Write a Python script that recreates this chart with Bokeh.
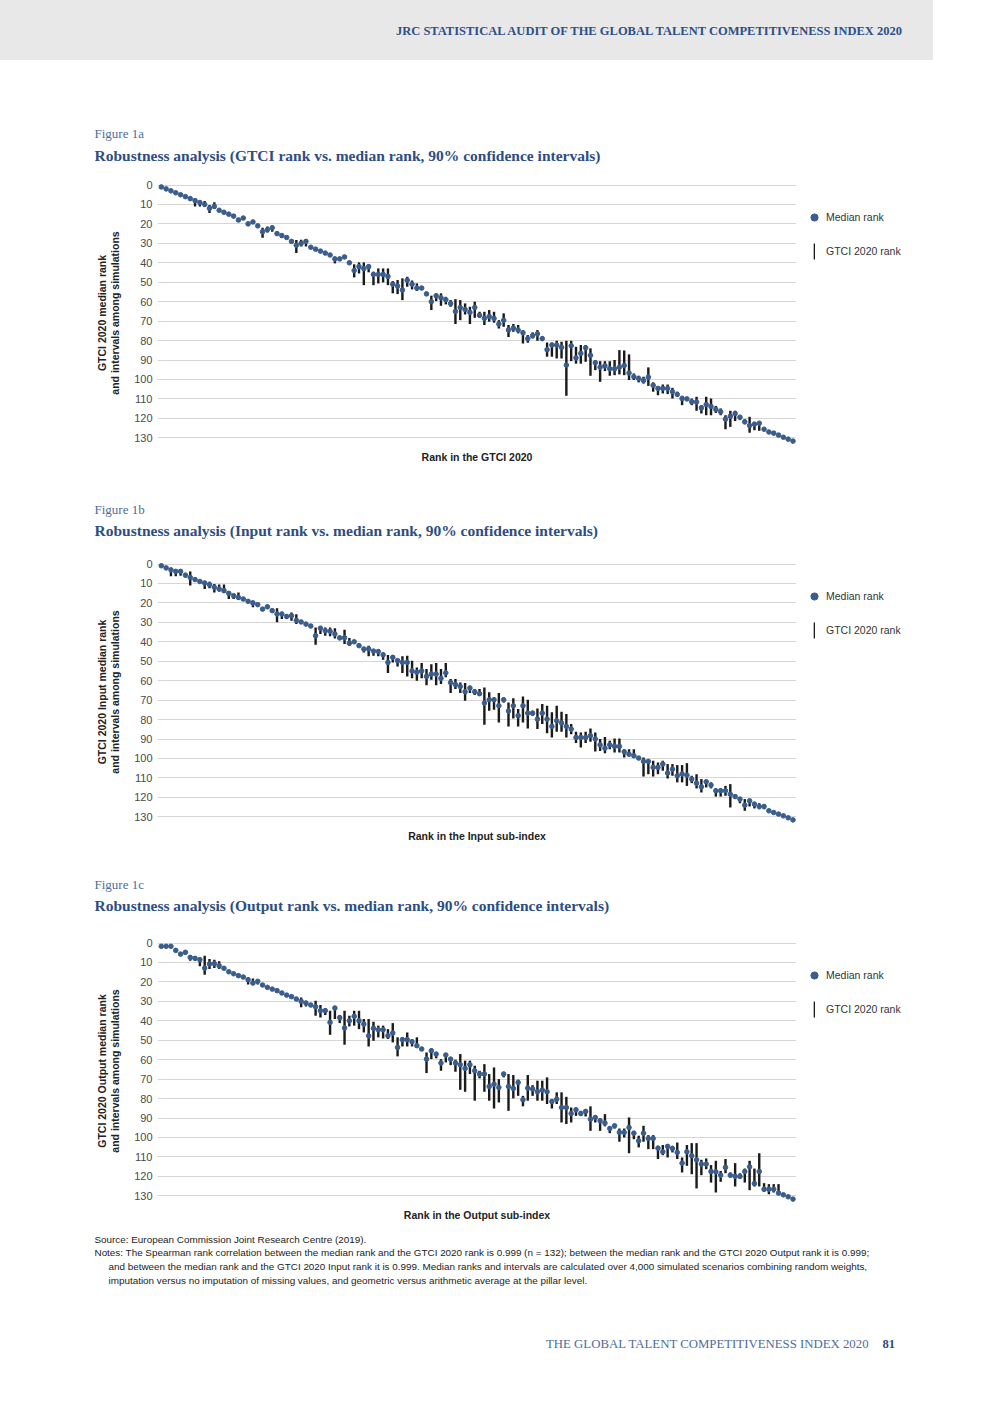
from bokeh.plotting import figure
from bokeh.models import (Range1d, FixedTicker, Label, Legend, LegendItem, Div,
                          ColumnDataSource)
from bokeh.layouts import column, row
from bokeh.embed import file_html
from bokeh.resources import INLINE
import math

# ---------------- data ----------------
ranks = list(range(1, 133))
y_ticks = [0, 10, 20, 30, 40, 50, 60, 70, 80, 90, 100, 110, 120, 130]

# Figure 1a : GTCI rank vs median rank
med_a = [1, 2, 3, 4, 5, 6, 7, 8, 9, 10,
         12, 11, 13, 14, 15, 16, 18, 17, 20, 19,
         21, 24, 23, 22, 25, 26, 27, 29, 31, 30,
         29, 32, 33, 34, 35, 36, 38, 38, 37, 40,
         44, 42, 43, 42, 46, 46, 46, 47, 51, 52,
         54, 49, 51, 53, 53, 56, 60, 57, 58, 59,
         61, 65, 63, 64, 65.5, 63, 67, 68.6, 67.6, 68.6,
         71.5, 69.6, 74.6, 73.6, 74.6, 76, 79, 77.5, 76.5, 79,
         84.7, 82.3, 82.3, 83.5, 92.6, 82.7, 88.9, 86.6, 83.7, 87.6,
         91.4, 93.7, 93, 94.5, 94.5, 93.7, 92.8, 96.7, 98.6, 99.5,
         100.5, 98.8, 103, 104.6, 104.6, 104.6, 106.3, 107.7, 109.8, 110,
         111.5, 111.6, 114.6, 112.9, 113.9, 115.4, 116.6, 120.4, 118.9, 117.5,
         119.4, 121.8, 123.7, 123, 122.5, 125.6, 127, 127.6, 128.6, 129.7,
         130.7, 131.7]
lo_a = [1, 2, 3, 4, 5, 6, 7, 7.7, 8.1, 8.2,
        10.3, 8.9, 13, 14, 15, 16, 16.8, 17, 18.9, 19,
        21, 22, 21.4, 20.9, 25, 24.9, 27, 29, 28.3, 28.1,
        28.1, 32, 33, 34, 35, 36, 36.9, 38, 37, 40,
        40.8, 39.8, 39.8, 40.8, 44.6, 42.9, 42.9, 42.9, 49.4, 48.9,
        48, 47.2, 49.1, 50.6, 53, 55, 56.9, 55.7, 55.7, 57.5,
        59.2, 58.7, 59.2, 60.9, 62.6, 60, 65.2, 65.2, 64.3, 65.2,
        69.5, 66, 72, 71.5, 72, 74.6, 77.2, 75.8, 74.6, 78,
        81, 81, 80.1, 80.6, 80.1, 80.1, 83.2, 82.3, 82.3, 84,
        90, 90.6, 90.6, 90.6, 90, 84.9, 85.1, 87.1, 96.9, 98.1,
        98.6, 93.8, 101.5, 103.8, 102.6, 102.6, 104.3, 106.3, 108.4, 110,
        109.8, 108.9, 113.2, 108.9, 109.8, 113.6, 114.9, 118.4, 116.1, 116.1,
        118.4, 120.4, 119.2, 121.8, 121.8, 125.6, 127, 127.6, 128.6, 129.7,
        130.7, 131.7]
hi_a = [1, 2, 3, 4, 5, 6, 7, 11.1, 11.1, 11.3,
        14.4, 12.3, 13, 14, 15, 16, 18.9, 17, 21.1, 19,
        21, 27.1, 24.4, 24, 25, 27.1, 27, 29, 35, 31.6,
        31.6, 32, 33, 34, 35, 36, 40.3, 38, 37, 40,
        47.5, 45.5, 51.5, 44.9, 51.5, 50.6, 50.1, 51.5, 55.7, 56.1,
        59.2, 52.3, 53.7, 54.5, 53, 57, 64.3, 59.7, 62.1, 61.4,
        62.6, 71.5, 69.5, 66.6, 71.5, 68.3, 68.3, 72, 70.3, 70.8,
        73.8, 72.9, 78.2, 75.5, 76.3, 81.5, 81.1, 78.9, 80.1, 80.1,
        88.3, 88.3, 89.2, 89.2, 108.4, 90.6, 91.9, 91.9, 90.9, 98.1,
        95.2, 101.2, 95.7, 98.1, 97.8, 97.4, 97.8, 100.3, 100.3, 101.5,
        102.1, 103.3, 106.3, 108.1, 107.2, 107.5, 109.8, 108.9, 113.2, 110,
        113.2, 116.1, 117.5, 118.4, 118.4, 117.2, 118.4, 125.6, 124.4, 121.4,
        120.9, 123, 127.4, 126.1, 126.4, 125.6, 127, 127.6, 128.6, 129.7,
        130.7, 131.7]

# Figure 1b : Input rank vs median rank
med_b = [0.9, 2, 3, 3.8, 3.8, 5.7, 6.9, 8, 9, 9.8,
         10.6, 12, 12.9, 13.7, 15.1, 16.3, 17.2, 18, 19.2, 20,
         20.9, 23.2, 22, 24, 25.7, 25.7, 27, 26.6, 29, 29.8,
         30.9, 31.9, 36.9, 33, 34.3, 34.6, 36, 38, 37.9, 40.7,
         40, 42, 43.7, 43.7, 44.8, 45, 46.7, 50.6, 48, 49.7,
         50.6, 50.6, 55, 55.7, 55, 57.8, 56.6, 56.6, 58.8, 56,
         61, 62, 63, 65.7, 63.8, 65.7, 66.7, 71.5, 69.8, 69.8,
         72.9, 69.8, 75.6, 72.9, 78, 72.9, 76.7, 76.7, 79.8, 76.7,
         79.8, 83.5, 80.6, 81.8, 83.5, 84.9, 89.2, 89.2, 89.2, 88.3,
         90, 93, 94.7, 93, 93.8, 93.8, 96.6, 97.8, 98.6, 99.8,
         101.5, 101.5, 104.6, 104.6, 102.9, 107.5, 105.5, 108.9, 108, 108.6,
         110.6, 112.7, 114.6, 112, 113.7, 116.6, 116.6, 116.6, 118.4, 119.6,
         120.9, 124, 121.8, 123.5, 124.7, 124.7, 126.9, 127.8, 128.6, 129.5,
         130.5, 131.6]
lo_b = [0.9, 2, 2.2, 2.9, 2.9, 4.6, 3.8, 8, 9, 8.6,
        9.1, 10.3, 10.6, 10.6, 14.2, 15.4, 14.6, 18, 19.2, 18.9,
        20.9, 23.2, 21.1, 24, 22.8, 24.9, 25.7, 24.9, 25.9, 29.8,
        30.9, 31.9, 32.6, 32.2, 32.6, 32.6, 33.1, 36.9, 33.8, 38.1,
        40, 42, 42.9, 42, 44.1, 44.1, 45.5, 46.8, 46.8, 48.9,
        47.5, 47.2, 49.7, 53.2, 50.9, 54, 51.5, 50.9, 54, 50.9,
        59.2, 59.2, 60.9, 61.2, 62.6, 64.3, 64.3, 63.5, 66, 68.6,
        66.4, 68.6, 71.2, 69.1, 74.6, 68.1, 69.8, 75.5, 74.3, 72,
        72.9, 76.3, 72.9, 76, 77.2, 82.3, 86.3, 86.6, 86.3, 84.6,
        86.6, 90, 88.9, 90.9, 89.7, 89.7, 95.2, 95.2, 95.2, 99.8,
        99.5, 100.7, 101.2, 102.1, 101.2, 102.9, 102.9, 103.4, 103.4, 102.4,
        108.9, 108.1, 110.6, 111, 112.3, 115.4, 115.4, 114.1, 113.2, 119.6,
        120.1, 120.9, 120.9, 122.3, 123, 123.5, 126.9, 127.8, 128.6, 129.5,
        130.5, 131.6]
hi_b = [0.9, 2, 6.3, 6.3, 6, 6.9, 11.1, 8, 9, 12.9,
        12.5, 14.6, 14.1, 14.9, 18, 18, 18.5, 18, 19.2, 22.3,
        20.9, 23.2, 23.2, 24, 30, 28.3, 28.3, 29.2, 30.9, 29.8,
        30.9, 31.9, 41.5, 36, 36.9, 37.2, 38.3, 38.6, 41.2, 42,
        40, 42, 45.5, 47.5, 47.2, 47.5, 49.2, 56.1, 50.6, 52.7,
        56.1, 57.8, 58.7, 60, 58.8, 62.3, 59.5, 62.3, 61.7, 58.3,
        66.4, 64.3, 66.4, 70.3, 66.4, 67.4, 67.8, 82.7, 75.5, 75,
        81.5, 71.2, 83.5, 79.4, 83.5, 81.5, 84.6, 78, 84.9, 82.3,
        87, 89.2, 86.3, 86.3, 89.2, 87.5, 92.1, 94.3, 92.1, 91.4,
        96.4, 96.1, 97.3, 95.2, 96.9, 96.9, 99.5, 99, 99.5, 99.8,
        109.3, 108.1, 109.3, 108.1, 106.3, 110.3, 108.9, 112.3, 112.3, 114.1,
        112.7, 115.4, 117.5, 114.9, 115.4, 119.6, 119.6, 119.2, 125.2, 119.6,
        123, 126.9, 124.7, 125.7, 126.1, 126.1, 126.9, 127.8, 128.6, 129.5,
        130.5, 131.6]

# Figure 1c : Output rank vs median rank
med_c = [1.7, 1.7, 1.7, 3.8, 5.7, 4.8, 7.4, 7.9, 8.6, 12.9,
         10.8, 10.6, 11.7, 13, 14.8, 15.8, 16.8, 17.5, 18.9, 20.6,
         19.7, 21.6, 22.8, 23.7, 24.5, 25.7, 26.8, 27.6, 28.8, 30,
         30.9, 31.9, 32.8, 34.8, 34.8, 40.8, 33.4, 38.4, 43.7, 40,
         37.7, 40, 41.7, 47.7, 43.9, 44.6, 44.6, 47.7, 46.3, 53.7,
         49.7, 49.7, 50.8, 52.8, 54.5, 59.7, 55.4, 57.1, 61.7, 57.6,
         59.7, 61.7, 62.6, 64.5, 62.6, 65.7, 67.4, 67.4, 73.8, 72.6,
         74.3, 67.4, 73.8, 74.8, 71.7, 80.6, 74.6, 75.1, 76.5, 75.6,
         76.5, 81.5, 80.3, 84.6, 84.6, 87.7, 85.8, 87.7, 86.6, 90.6,
         89.7, 91.4, 92.6, 95.4, 94, 97.4, 97.4, 94.9, 97.8, 101.7,
         97.8, 100.5, 100.5, 105.5, 107.4, 104.6, 105.7, 107.7, 113.2, 107.4,
         109.4, 111.5, 113.7, 113.7, 117.5, 117.7, 119.4, 115.4, 119.4, 120,
         120, 117.5, 115.1, 123.7, 117.5, 126.6, 126.6, 126.6, 128.6, 129.5,
         130.5, 131.7]
lo_c = [1.7, 1.7, 1.7, 3.8, 5.7, 4.8, 6.2, 6.9, 7.4, 6.5,
        8.2, 8.6, 9.4, 13, 14.8, 15.8, 16.8, 17.5, 17.7, 18.2,
        19, 21.6, 22.8, 23.7, 24.5, 25.7, 26.8, 27.6, 28.8, 28,
        29.7, 31.9, 29.7, 31.9, 33.6, 34.8, 32.8, 37, 34.8, 37.4,
        34.8, 34.8, 39.1, 39.1, 40.5, 42.5, 42.5, 44.3, 41.2, 48.5,
        48.5, 46, 49.4, 48.5, 54.5, 56.3, 54.2, 56.3, 59.7, 57.1,
        58.8, 60, 57.1, 60.5, 60.5, 63.1, 65.7, 62.3, 67.4, 64,
        70, 66.2, 67.4, 67.9, 70.3, 78.6, 67.9, 73.1, 70.8, 70.8,
        69.1, 80.3, 76.8, 76.8, 79.1, 84.6, 84.6, 86.3, 85.4, 84,
        88.9, 90.2, 88, 94.3, 93.1, 95.4, 95.4, 89.7, 96.6, 99.1,
        94, 98.8, 98.8, 104.3, 103.9, 103.4, 104.3, 102.6, 110.3, 103.9,
        102.9, 102.9, 111.5, 110.8, 114.2, 112, 117.2, 111.1, 118, 113.2,
        118.4, 116, 112, 116, 108.1, 123.5, 124, 124, 124, 129.5,
        130.5, 131.7]
hi_c = [1.7, 1.7, 1.7, 3.8, 5.7, 4.8, 9.1, 9.1, 12, 16.3,
        13.4, 12.9, 13.4, 13, 14.8, 15.8, 16.8, 17.5, 21.4, 21.6,
        21.4, 21.6, 22.8, 23.7, 24.5, 25.7, 26.8, 27.6, 28.8, 33.1,
        32.6, 31.9, 37.4, 38.3, 37, 47.2, 39.1, 41.2, 52.3, 42.9,
        42.5, 44.3, 46, 53.2, 50.3, 48.5, 49.1, 49.4, 51.1, 58.3,
        53.2, 53.2, 53.2, 53.7, 54.5, 66.9, 59.7, 59.3, 65.7, 61.4,
        62.8, 66.2, 75.5, 76.5, 67.4, 81.1, 69.6, 76.5, 81.1, 85.1,
        82, 69.1, 86.3, 79.9, 78.6, 84, 81.1, 78.6, 81.1, 81.1,
        82.8, 85.1, 82.8, 92.3, 93.1, 92.3, 88.9, 88.9, 89.2, 96.6,
        92.3, 96.6, 94.3, 97.8, 95.4, 102.2, 100, 108.1, 100.9, 105.1,
        102.2, 106, 106, 111.1, 109.1, 110.3, 107.7, 111.1, 118, 114.6,
        118.9, 126.2, 119.4, 116.3, 123.2, 128.3, 122.8, 118.4, 120.6, 125.2,
        121.4, 123.2, 127.1, 125.2, 125.2, 128, 129.2, 128.3, 129.2, 129.5,
        130.5, 131.7]

# ---------------- styling constants ----------------
BLUE_MARK = "#3a5d8c"
BAR = "#1a1a1a"
TITLE_BLUE = "#2d4d83"
LABEL_BLUE = "#4d6c9c"
SANS = "Liberation Sans"
SERIF = "Liberation Serif"
PAGE_W = 984

FRAME_H = 270
PX_PER_UNIT = 252.8 / 130.0
Y_TOP = -4.5 / PX_PER_UNIT
Y_BOTTOM = (FRAME_H - 4.5) / PX_PER_UNIT
PX_PER_RANK = 631.7 / 131.0
X_START = 1 - 3.8 / PX_PER_RANK
X_END = X_START + 639 / PX_PER_RANK

LEFT_W = 127      # page x where the chart figure starts
FRAME_L = 157     # page x of plot frame left
FRAME_R = 796     # page x of plot frame right


def text_fig(y0, y1, x0=0, x1=PAGE_W):
    """A blank figure whose data coordinates are page pixel coordinates."""
    p = figure(width=x1 - x0, height=y1 - y0, output_backend="svg",
               toolbar_location=None, x_range=Range1d(x0, x1),
               y_range=Range1d(y1, y0), x_axis_location=None,
               y_axis_location=None, min_border=0)
    p.outline_line_color = None
    p.background_fill_color = "white"
    p.border_fill_color = "white"
    p.xgrid.visible = False
    p.ygrid.visible = False
    return p


def put(p, text, x, y, font, size, color, style="normal", align="left",
        angle=0.0):
    p.add_layout(Label(x=x, y=y, text=text, text_font=font,
                       text_font_size=size, text_color=color,
                       text_font_style=style, text_align=align,
                       text_baseline="middle", angle=angle))


def chart_row(med, lo, hi, frame_top, y_label1, y_label2):
    fb = frame_top + FRAME_H
    # left strip with the rotated y-axis title
    left = text_fig(frame_top, fb, 0, LEFT_W)
    yc = frame_top + 4.5 + 128
    put(left, y_label1, 101, yc, SANS, "10.5px", "#222222", style="bold",
        align="center", angle=math.pi / 2)
    put(left, y_label2, 114, yc, SANS, "10.5px", "#222222", style="bold",
        align="center", angle=math.pi / 2)

    # the chart itself
    p = figure(width=FRAME_R - LEFT_W, height=FRAME_H, output_backend="svg",
               toolbar_location=None,
               x_range=Range1d(X_START, X_END),
               y_range=Range1d(Y_BOTTOM, Y_TOP),
               x_axis_location=None, min_border=0,
               min_border_left=FRAME_L - LEFT_W)
    p.outline_line_color = None
    p.background_fill_color = "white"
    p.border_fill_color = "white"
    p.xgrid.visible = False
    p.ygrid.grid_line_color = "#d6d6d6"
    p.ygrid.grid_line_width = 1
    p.yaxis.ticker = FixedTicker(ticks=y_ticks)
    p.yaxis.axis_line_color = None
    p.yaxis.major_tick_line_color = None
    p.yaxis.minor_tick_line_color = None
    p.yaxis.major_tick_out = 0
    p.yaxis.major_tick_in = 0
    p.yaxis.major_label_standoff = 5
    p.yaxis.major_label_text_font = SANS
    p.yaxis.major_label_text_font_size = "11px"
    p.yaxis.major_label_text_color = "#4a4a4a"

    src = ColumnDataSource(dict(rank=ranks, med=med, lo=lo, hi=hi))
    p.vbar(x="rank", bottom="lo", top="hi", width=0.5, source=src,
           fill_color=BAR, line_color=None)
    p.scatter(x="rank", y="med", source=src, marker="circle", size=4.6,
              fill_color=BLUE_MARK, line_color=BLUE_MARK)

    # right strip with the legend; the proxy renderers are hidden so only
    # their legend glyphs are drawn
    right = text_fig(frame_top, fb, FRAME_R, PAGE_W)
    lm = right.scatter(x="rank", y="med", source=src, marker="circle",
                       fill_color=BLUE_MARK, line_color=BLUE_MARK)
    lb = right.vbar(x="rank", bottom="lo", top="hi", width=1, source=src,
                    fill_color=BAR, line_color=None)
    lm.visible = False
    lb.visible = False
    common = dict(padding=0, margin=0, spacing=0, border_line_color=None,
                  background_fill_alpha=0, inactive_fill_alpha=0,
                  label_text_font=SANS,
                  label_text_font_size="10.5px", label_text_color="#333333")
    right.add_layout(Legend(
        items=[LegendItem(label="Median rank", renderers=[lm])],
        location=(9, 224.5), glyph_width=18, glyph_height=18,
        label_height=18, label_standoff=3, **common))
    right.add_layout(Legend(
        items=[LegendItem(label="GTCI 2020 rank", renderers=[lb])],
        location=(17, 189.3), glyph_width=2, glyph_height=20,
        label_height=20, label_standoff=11, **common))
    return row(left, p, right, spacing=0)


header = Div(
    text=('<div style="width:933px;height:60px;background:#e8e8e8;'
          'box-sizing:border-box;padding:23px 31px 0 0;text-align:right;'
          'font-family:\'Liberation Serif\';font-weight:bold;font-size:12.5px;'
          'line-height:16px;color:#2e4f85;white-space:nowrap;">'
          'JRC STATISTICAL AUDIT OF THE GLOBAL TALENT COMPETITIVENESS INDEX 2020'
          '</div>'),
    width=933, height=60, margin=0)

TITLE_SIZE = "15.5px"
FIG_SIZE = "13px"
AXT = "10.5px"

# text strip above figure 1a
sa = text_fig(60, 180)
put(sa, "Figure 1a", 94, 133, SERIF, FIG_SIZE, LABEL_BLUE)
put(sa, "Robustness analysis (GTCI rank vs. median rank, 90% confidence intervals)",
    94, 155, SERIF, TITLE_SIZE, TITLE_BLUE, style="bold")

ra = chart_row(med_a, lo_a, hi_a, 180, "GTCI 2020 median rank",
               "and intervals among simulations")

sb = text_fig(450, 559)
put(sb, "Rank in the GTCI 2020", 476.5, 456, SANS, AXT, "#222222",
    style="bold", align="center")
put(sb, "Figure 1b", 94, 509, SERIF, FIG_SIZE, LABEL_BLUE)
put(sb, "Robustness analysis (Input rank vs. median rank, 90% confidence intervals)",
    94, 530, SERIF, TITLE_SIZE, TITLE_BLUE, style="bold")

rb = chart_row(med_b, lo_b, hi_b, 559, "GTCI 2020 Input median rank",
               "and intervals among simulations")

sc = text_fig(829, 938)
put(sc, "Rank in the Input sub-index", 476.5, 835, SANS, AXT, "#222222",
    style="bold", align="center")
put(sc, "Figure 1c", 94, 884, SERIF, FIG_SIZE, LABEL_BLUE)
put(sc, "Robustness analysis (Output rank vs. median rank, 90% confidence intervals)",
    94, 905, SERIF, TITLE_SIZE, TITLE_BLUE, style="bold")

rc = chart_row(med_c, lo_c, hi_c, 938, "GTCI 2020 Output median rank",
               "and intervals among simulations")

se = text_fig(1208, 1390)
put(se, "Rank in the Output sub-index", 476.5, 1214, SANS, AXT, "#222222",
    style="bold", align="center")
NOTE = "#222222"
NOTE_SIZE = "9.9px"
put(se, "Source: European Commission Joint Research Centre (2019).", 94, 1239,
    SANS, NOTE_SIZE, NOTE)
put(se, "Notes: The Spearman rank correlation between the median rank and the GTCI 2020 rank is 0.999 (n = 132); "
    "between the median rank and the GTCI 2020 Output rank it is 0.999;", 94, 1252,
    SANS, NOTE_SIZE, NOTE)
put(se, "and between the median rank and the GTCI 2020 Input rank it is 0.999. Median ranks and intervals are "
    "calculated over 4,000 simulated scenarios combining random weights,", 108, 1266,
    SANS, NOTE_SIZE, NOTE)
put(se, "imputation versus no imputation of missing values, and geometric versus arithmetic average at the pillar level.",
    108, 1280, SANS, NOTE_SIZE, NOTE)
put(se, "THE GLOBAL TALENT COMPETITIVENESS INDEX 2020", 869, 1343, SERIF, "12.8px",
    LABEL_BLUE, align="right")
put(se, "81", 882, 1343, SERIF, "12.5px", TITLE_BLUE, style="bold")

layout = column(header, sa, ra, sb, rb, sc, rc, se, spacing=0)
open("out.html", "w").write(file_html(layout, INLINE))
